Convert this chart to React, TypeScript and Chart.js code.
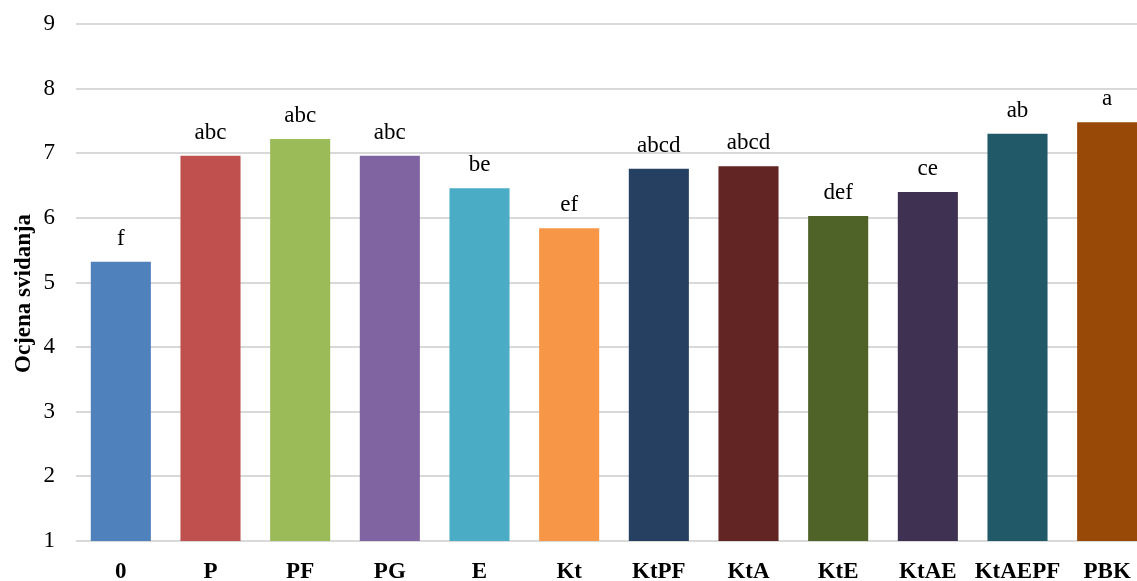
import React, { useEffect, useRef } from "react";
import { Chart, registerables } from "chart.js";

Chart.register(...registerables);

const categories = ["0", "P", "PF", "PG", "E", "Kt", "KtPF", "KtA", "KtE", "KtAE", "KtAEPF", "PBK"];
const values = [5.32, 6.96, 7.22, 6.96, 6.46, 5.84, 6.76, 6.8, 6.03, 6.4, 7.3, 7.48];
const letters = ["f", "abc", "abc", "abc", "be", "ef", "abcd", "abcd", "def", "ce", "ab", "a"];
const colors = [
  "#4F81BD", "#C0504D", "#9BBB59", "#8064A2", "#4BACC6", "#F79646",
  "#254061", "#632523", "#4F6228", "#3F3151", "#215968", "#984807",
];
const yTicks = [1, 2, 3, 4, 5, 6, 7, 8, 9];
const yTitle = "Ocjena svidanja";

const FONT = "'Liberation Serif', 'Times New Roman', serif";

const letterPlugin = {
  id: "letters",
  afterDatasetsDraw(chart: any) {
    const ctx = chart.ctx;
    const meta = chart.getDatasetMeta(0);
    ctx.save();
    ctx.font = `23px ${FONT}`;
    ctx.fillStyle = "#000";
    ctx.textAlign = "center";
    ctx.textBaseline = "alphabetic";
    meta.data.forEach((bar: any, i: number) => {
      ctx.fillText(letters[i], bar.x, bar.y - 17);
    });
    ctx.restore();
  },
};

export default function App() {
  const ref = useRef<HTMLCanvasElement | null>(null);
  useEffect(() => {
    if (!ref.current) return;
    const chart = new Chart(ref.current, {
      type: "bar",
      data: {
        labels: categories,
        datasets: [
          {
            data: values,
            backgroundColor: colors,
            borderWidth: 0,
            categoryPercentage: 1,
            barPercentage: 0.67,
          },
        ],
      },
      options: {
        responsive: false,
        animation: false,
        layout: { padding: { top: 24, left: 0, right: 0, bottom: 0 } },
        plugins: { legend: { display: false }, tooltip: { enabled: false } },
        scales: {
          x: {
            grid: { display: false, drawTicks: false },
            border: { display: false },
            ticks: {
              color: "#000",
              font: { family: FONT, size: 23, weight: "bold" },
              padding: 17,
              maxRotation: 0,
              autoSkip: false,
            },
            afterFit(axis: any) {
              axis.height = 40;
              axis.paddingLeft = 0;
              axis.paddingRight = 0;
            },
          },
          y: {
            min: 1,
            max: 9,
            afterBuildTicks(axis: any) {
              axis.ticks = yTicks.map((v) => ({ value: v }));
            },
            grid: { color: "#D9D9D9", lineWidth: 2, drawTicks: false },
            border: { display: false },
            ticks: {
              color: "#000",
              font: { family: FONT, size: 23 },
              padding: 21,
            },
            title: {
              display: true,
              text: yTitle + "   \u2009",
              color: "#000",
              font: { family: FONT, size: 23, weight: "bold" },
              padding: { top: 10, bottom: 0 },
            },
            afterFit(axis: any) {
              axis.width = 76;
              axis.paddingTop = 0;
              axis.paddingBottom = 0;
            },
          },
        },
      },
      plugins: [letterPlugin],
    });
    return () => chart.destroy();
  }, []);
  return (
    <div
      style={{
        position: "fixed",
        left: 0,
        top: 0,
        width: 1137,
        height: 581,
        overflow: "hidden",
        background: "#fff",
      }}
    >
      <canvas ref={ref} width={1152} height={581} style={{ display: "block", width: 1152, height: 581 }} />
    </div>
  );
}
